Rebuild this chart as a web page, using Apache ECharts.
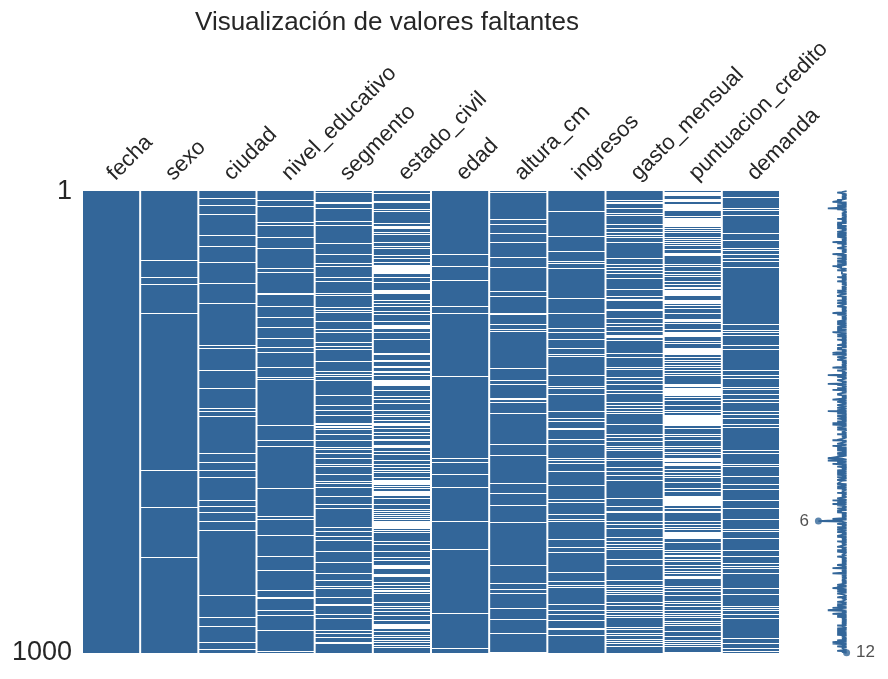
<!DOCTYPE html>
<html><head><meta charset="utf-8">
<script src="https://cdn.jsdelivr.net/npm/echarts@6/dist/echarts.min.js"></script>
<style>html,body{margin:0;padding:0;background:#fff}#c{width:888px;height:679px}</style>
</head><body><div id="c"></div>
<script>
const titleText = 'Visualización de valores faltantes';
const columns = ['fecha','sexo','ciudad','nivel_educativo','segmento','estado_civil','edad','altura_cm','ingresos','gasto_mensual','puntuacion_credito','demanda'];
const nRows = 1000;
const rowTickLabels = [1, 1000];

// row numbers (1-based) with missing values, per column
const missing_fecha = [];
const missing_sexo = [151, 187, 202, 265, 605, 685, 793];
const missing_ciudad = [16, 31, 50, 96, 120, 154, 200, 243, 334, 341, 388, 427, 470, 477, 488, 568, 587, 605, 620, 670, 682, 695, 715, 734, 875, 923, 942, 977, 992];
const missing_nivel_educativo = [20, 33, 69, 75, 100, 124, 167, 177, 221, 225, 249, 273, 295, 320, 338, 350, 382, 403, 409, 507, 540, 553, 644, 705, 710, 746, 791, 822, 865, 880, 883, 908, 919, 951, 996];
const missing_segmento = [4, 24, 26, 28, 38, 66, 74, 114, 137, 156, 163, 188, 196, 221, 227, 251, 258, 263, 282, 300, 307, 328, 337, 343, 369, 391, 398, 402, 411, 442, 464, 475, 486, 503, 506, 509, 512, 517, 527, 540, 555, 559, 569, 579, 591, 597, 613, 629, 634, 641, 661, 678, 688, 728, 738, 747, 756, 781, 804, 828, 843, 856, 860, 880, 895, 898, 916, 925, 951, 958, 966, 977, 980];
const missing_estado_civil = [6, 22, 24, 40, 45, 71, 77, 79, 81, 90, 95, 111, 119, 125, 140, 147, 154, 162, 164, 166, 168, 170, 172, 174, 176, 178, 187, 199, 216, 218, 220, 222, 237, 243, 250, 261, 268, 283, 291, 293, 295, 297, 298, 306, 322, 351, 352, 354, 366, 368, 370, 380, 382, 383, 390, 392, 393, 399, 410, 412, 414, 416, 418, 420, 421, 431, 444, 452, 460, 475, 484, 489, 497, 503, 505, 507, 513, 523, 529, 537, 539, 540, 550, 552, 554, 555, 563, 571, 584, 591, 598, 604, 610, 620, 626, 628, 630, 632, 634, 636, 639, 644, 650, 652, 654, 656, 660, 666, 678, 690, 694, 698, 703, 707, 710, 715, 716, 718, 720, 722, 724, 726, 728, 730, 734, 739, 759, 764, 781, 794, 799, 810, 812, 814, 816, 817, 831, 833, 835, 847, 853, 860, 864, 867, 872, 890, 900, 903, 911, 918, 929, 939, 941, 943, 945, 947, 954, 961, 967, 973, 978, 983, 987];
const missing_edad = [137, 163, 193, 250, 265, 401, 579, 587, 613, 641, 715, 776, 914, 990];
const missing_altura_cm = [4, 61, 72, 92, 111, 144, 165, 217, 228, 264, 268, 289, 300, 304, 385, 410, 418, 448, 452, 457, 481, 548, 572, 633, 654, 681, 717, 811, 849, 862, 872, 903, 927, 957, 998];
const missing_ingresos = [44, 98, 131, 152, 157, 167, 232, 265, 297, 306, 322, 340, 354, 359, 399, 423, 428, 440, 477, 493, 499, 514, 517, 538, 548, 580, 584, 589, 607, 637, 667, 674, 701, 711, 715, 754, 771, 782, 825, 846, 853, 859, 895, 908, 916, 930, 947, 950, 962];
const missing_gasto_mensual = [20, 24, 26, 38, 49, 54, 72, 82, 89, 96, 101, 111, 147, 159, 166, 172, 179, 190, 214, 228, 234, 238, 257, 259, 276, 286, 294, 304, 313, 315, 317, 323, 351, 360, 383, 386, 403, 411, 418, 431, 439, 458, 464, 470, 477, 481, 506, 527, 533, 542, 552, 558, 562, 579, 584, 598, 607, 615, 626, 665, 683, 693, 696, 715, 721, 730, 749, 759, 765, 771, 775, 798, 810, 844, 854, 859, 864, 869, 874, 890, 898, 908, 912, 918, 922, 944, 948, 958, 961, 970, 974, 980, 986];
const missing_puntuacion_credito = [3, 5, 7, 9, 19, 21, 23, 29, 31, 33, 35, 38, 40, 42, 55, 59, 61, 63, 65, 67, 69, 71, 73, 75, 77, 81, 85, 89, 100, 105, 110, 114, 118, 126, 136, 138, 140, 159, 163, 175, 180, 185, 196, 203, 208, 212, 216, 218, 220, 222, 224, 226, 238, 240, 242, 244, 248, 254, 264, 277, 279, 281, 283, 286, 299, 306, 308, 310, 312, 315, 326, 330, 340, 342, 344, 346, 348, 350, 351, 354, 360, 366, 372, 377, 383, 389, 395, 399, 418, 420, 422, 427, 429, 431, 433, 436, 438, 440, 442, 447, 454, 465, 474, 480, 486, 488, 490, 492, 494, 496, 499, 501, 503, 505, 507, 514, 526, 532, 539, 552, 558, 565, 571, 579, 581, 584, 586, 589, 591, 594, 602, 610, 615, 621, 631, 643, 651, 662, 664, 666, 668, 670, 672, 674, 676, 678, 681, 687, 693, 696, 715, 721, 729, 733, 739, 741, 743, 745, 747, 749, 752, 760, 778, 782, 788, 792, 797, 801, 811, 817, 824, 828, 834, 836, 838, 856, 861, 867, 876, 889, 893, 899, 909, 915, 919, 922, 932, 936, 941, 954, 965, 973, 977, 981, 986, 999];
const missing_demanda = [14, 38, 43, 52, 92, 107, 124, 128, 137, 146, 152, 165, 289, 302, 307, 312, 334, 343, 389, 399, 405, 425, 429, 441, 452, 457, 477, 483, 493, 506, 512, 562, 568, 592, 597, 618, 636, 646, 670, 688, 710, 732, 737, 753, 778, 792, 807, 812, 817, 828, 860, 873, 899, 903, 908, 916, 926, 968, 980, 991, 996];

const missingByColumn = [missing_fecha, missing_sexo, missing_ciudad, missing_nivel_educativo, missing_segmento, missing_estado_civil, missing_edad, missing_altura_cm, missing_ingresos, missing_gasto_mensual, missing_puntuacion_credito, missing_demanda];

const BLUE = '#336699';
const FONT = 'Arial, "Liberation Sans", sans-serif';

// build data for the library
const bgData = columns.map((c, i) => [i, 0.5, nRows + 0.5]);
const missData = [];
const missCount = new Array(nRows + 1).fill(0);
missingByColumn.forEach((arr, ci) => {
  arr.forEach(r => { missData.push([ci, r]); missCount[r] += 1; });
});
const completeness = [];
for (let r = 1; r <= nRows; r++) completeness.push([columns.length - missCount[r], r]);
let minV = Infinity, maxV = -Infinity, minR = 1, maxR = 1;
completeness.forEach(([v, r]) => {
  if (v <= minV) { minV = v; minR = r; }
  if (v >= maxV) { maxV = v; maxR = r; }
});

const chart = echarts.init(document.getElementById('c'), null, {renderer: 'canvas'});
chart.setOption({
  animation: false,
  backgroundColor: '#fff',
  textStyle: {fontFamily: FONT},
  title: {
    text: titleText, left: 382, top: 5, textAlign: 'center',
    textStyle: {fontSize: 26, fontWeight: 'normal', color: '#262626', fontFamily: FONT}
  },
  grid: [
    {left: 82, top: 191, width: 698, height: 462},
    {left: 809, top: 191, width: 47, height: 462}
  ],
  xAxis: [
    {type: 'category', gridIndex: 0, data: columns, position: 'top',
     axisLine: {show: false}, axisTick: {show: false}, splitLine: {show: false},
     axisLabel: {rotate: -45, fontSize: 22, color: '#262626', margin: 14, interval: 0, fontFamily: FONT}},
    {type: 'value', gridIndex: 1, min: 4, max: 14, show: false}
  ],
  yAxis: [
    {type: 'value', gridIndex: 0, inverse: true, min: 0.5, max: nRows + 0.5,
     axisLine: {show: false}, axisTick: {show: false}, splitLine: {show: false},
     axisLabel: {customValues: rowTickLabels, formatter: v => String(v), fontSize: 27, color: '#262626', margin: 10, fontFamily: FONT}},
    {type: 'value', gridIndex: 1, inverse: true, min: 0.5, max: nRows + 0.5, show: false}
  ],
  series: [
    {type: 'custom', xAxisIndex: 0, yAxisIndex: 0, data: bgData, encode: {x: 0, y: [1, 2]},
     renderItem: (params, api) => {
       const top = api.coord([api.value(0), api.value(1)]);
       const bot = api.coord([api.value(0), api.value(2)]);
       const bw = api.size([1, 0])[0];
       return {type: 'rect', shape: {x: top[0] - bw / 2 + 1, y: top[1], width: bw - 2, height: bot[1] - top[1]},
               style: {fill: BLUE}};
     }},
    {type: 'custom', xAxisIndex: 0, yAxisIndex: 0, data: missData, encode: {x: 0, y: 1},
     renderItem: (params, api) => {
       const c = api.coord([api.value(0), api.value(1)]);
       const bw = api.size([1, 0])[0];
       const h = api.size([0, 1])[1];
       const y0 = Math.round(c[1] - h / 2);
       let y1 = Math.round(c[1] + h / 2);
       if (y1 <= y0) y1 = y0 + 1;
       return {type: 'rect', shape: {x: c[0] - bw / 2, y: y0, width: bw, height: y1 - y0},
               style: {fill: '#ffffff'}};
     }},
    {type: 'line', xAxisIndex: 1, yAxisIndex: 1, data: completeness, showSymbol: false,
     lineStyle: {color: BLUE, width: 1.8}, silent: true},
    {type: 'scatter', xAxisIndex: 1, yAxisIndex: 1, symbolSize: 7,
     itemStyle: {color: BLUE},
     data: [
       {value: [minV, minR], label: {show: true, position: 'left', formatter: String(minV), fontSize: 17, color: '#262626', distance: 6}},
       {value: [maxV, maxR], label: {show: true, position: 'right', formatter: String(maxV), fontSize: 17, color: '#262626', distance: 6}}
     ]}
  ]
});
</script></body></html>
